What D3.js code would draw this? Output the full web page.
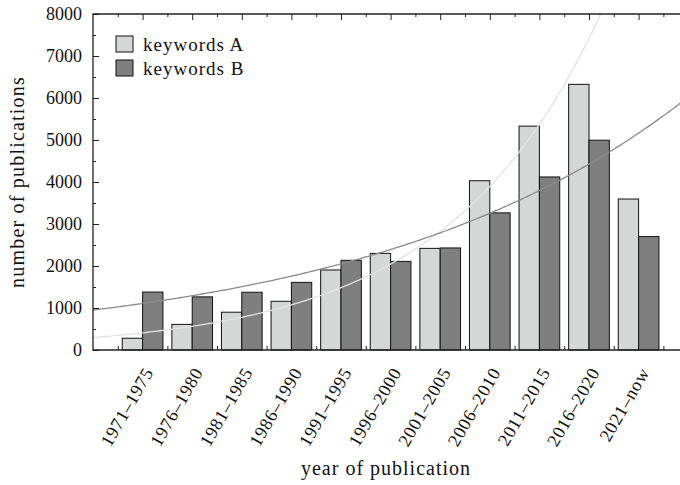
<!DOCTYPE html>
<html>
<head>
<meta charset="utf-8">
<script src="https://cdn.jsdelivr.net/npm/d3@7"></script>
<style>
  body { margin: 0; background: #fff; }
  svg text { font-family: "Liberation Serif", "DejaVu Serif", serif; fill: #111; }
</style>
</head>
<body>
<div id="chart"></div>
<script>
const categories = ['1971–1975', '1976–1980', '1981–1985', '1986–1990', '1991–1995',
  '1996–2000', '2001–2005', '2006–2010', '2011–2015', '2016–2020', '2021–now'];
const keywordsA = [280, 610, 900, 1160, 1905, 2300, 2420, 4030, 5330, 6325, 3595];
const keywordsB = [1380, 1265, 1375, 1610, 2135, 2110, 2430, 3265, 4120, 4995, 2700];
const yTicks = [0, 1000, 2000, 3000, 4000, 5000, 6000, 7000, 8000];
const seriesNames = ['keywords A', 'keywords B'];

const width = 680;
const height = 485;
const margin = {top: 14, left: 93, bottom: 135};
const plotBottom = height - margin.bottom;

const x = d3.scaleLinear().domain([-1, 11]).range([margin.left, margin.left + 12 * 49.6]);
const y = d3.scaleLinear().domain([0, 8000]).range([plotBottom, margin.top]);
const barW = 0.41;

// log-linear least squares fit over the complete periods (not 2021-now)
function expFit(vals) {
  const pts = vals.slice(0, 10).map((v, i) => [i, Math.log(v)]);
  const mx = d3.mean(pts, p => p[0]);
  const my = d3.mean(pts, p => p[1]);
  const b = d3.sum(pts, p => (p[0] - mx) * (p[1] - my)) / d3.sum(pts, p => (p[0] - mx) ** 2);
  const a = my - b * mx;
  return t => Math.exp(a + b * t);
}
const fitA = expFit(keywordsA);
const fitB = expFit(keywordsB);

const svg = d3.select('#chart').append('svg')
  .attr('width', width)
  .attr('height', height);

svg.append('clipPath').attr('id', 'plotclip')
  .append('rect')
  .attr('x', margin.left).attr('y', margin.top)
  .attr('width', x(11) - margin.left).attr('height', plotBottom - margin.top);

// bars
const groups = svg.append('g');
categories.forEach((c, i) => {
  groups.append('rect')
    .attr('x', x(i - barW)).attr('y', y(keywordsA[i]))
    .attr('width', x(i) - x(i - barW)).attr('height', plotBottom - y(keywordsA[i]))
    .attr('fill', '#d5d7d7').attr('stroke', '#111').attr('stroke-width', 1);
  groups.append('rect')
    .attr('x', x(i)).attr('y', y(keywordsB[i]))
    .attr('width', x(i + barW) - x(i)).attr('height', plotBottom - y(keywordsB[i]))
    .attr('fill', '#7f7f7f').attr('stroke', '#111').attr('stroke-width', 1);
});

// fit curves
const ts = d3.range(-1, 11.01, 0.05);
const line = d3.line().x(t => x(t));
const curves = svg.append('g').attr('clip-path', 'url(#plotclip)');
curves.append('path')
  .attr('d', line.y(t => y(fitA(t)))(ts))
  .attr('fill', 'none').attr('stroke', '#e2e2e2').attr('stroke-width', 1.3);
curves.append('path')
  .attr('d', line.y(t => y(fitB(t)))(ts))
  .attr('fill', 'none').attr('stroke', '#8a8a8a').attr('stroke-width', 1.3);

// axes
const axisCol = '#222';
const yAxis = svg.append('g').attr('transform', `translate(${margin.left},0)`)
  .call(d3.axisRight(y).tickValues(yTicks).tickSize(6).tickFormat(''));
yAxis.select('.domain').remove();
yAxis.selectAll('line').attr('stroke', axisCol);
svg.append('g').attr('transform', `translate(${margin.left},0)`)
  .call(d3.axisRight(y).tickValues(d3.range(500, 8000, 1000)).tickSize(3).tickFormat(''))
  .call(g => g.select('.domain').remove())
  .selectAll('line').attr('stroke', axisCol);
svg.append('g').selectAll('text').data(yTicks).join('text')
  .attr('x', margin.left - 11).attr('y', d => y(d)).attr('dy', '0.35em')
  .attr('text-anchor', 'end').attr('font-size', 18).text(d => d);

// top ticks: long at group centres, short at boundaries
svg.append('g').attr('transform', `translate(0,${margin.top})`)
  .call(d3.axisBottom(x).tickValues(d3.range(0, 11)).tickSize(6).tickFormat(''))
  .call(g => g.select('.domain').remove())
  .selectAll('line').attr('stroke', axisCol);
svg.append('g').attr('transform', `translate(0,${margin.top})`)
  .call(d3.axisBottom(x).tickValues(d3.range(-0.5, 11, 1)).tickSize(3).tickFormat(''))
  .call(g => g.select('.domain').remove())
  .selectAll('line').attr('stroke', axisCol);
// bottom ticks at boundaries
svg.append('g').attr('transform', `translate(0,${plotBottom})`)
  .call(d3.axisTop(x).tickValues(d3.range(-0.5, 11, 1)).tickSize(4).tickFormat(''))
  .call(g => g.select('.domain').remove())
  .selectAll('line').attr('stroke', axisCol);

// frame lines
svg.append('path')
  .attr('d', `M${width},${margin.top}H${margin.left}V${plotBottom}H${width}`)
  .attr('fill', 'none').attr('stroke', axisCol).attr('stroke-width', 1.3);

// category labels
svg.append('g').selectAll('text').data(categories).join('text')
  .attr('transform', (d, i) => `translate(${x(i) + 6},${plotBottom + 19}) rotate(-60)`)
  .attr('text-anchor', 'end').attr('dy', '0.35em').attr('font-size', 18)
  .attr('letter-spacing', 0.7)
  .text(d => d);

// axis titles
svg.append('text')
  .attr('x', 386).attr('y', 475)
  .attr('text-anchor', 'middle').attr('font-size', 20).attr('letter-spacing', 1)
  .text('year of publication');
svg.append('text')
  .attr('transform', `translate(24,${(margin.top + plotBottom) / 2}) rotate(-90)`)
  .attr('text-anchor', 'middle').attr('font-size', 20).attr('letter-spacing', 1.2)
  .text('number of publications');

// legend
const legendFills = ['#d5d7d7', '#7f7f7f'];
const legend = svg.append('g').attr('transform', 'translate(116,36)');
seriesNames.forEach((n, i) => {
  legend.append('rect')
    .attr('x', 0).attr('y', i * 24).attr('width', 17).attr('height', 16)
    .attr('fill', legendFills[i]).attr('stroke', '#111').attr('stroke-width', 1);
  legend.append('text')
    .attr('x', 27).attr('y', i * 24 + 8).attr('dy', '0.35em')
    .attr('font-size', 19).attr('letter-spacing', 1).text(n);
});
</script>
</body>
</html>
